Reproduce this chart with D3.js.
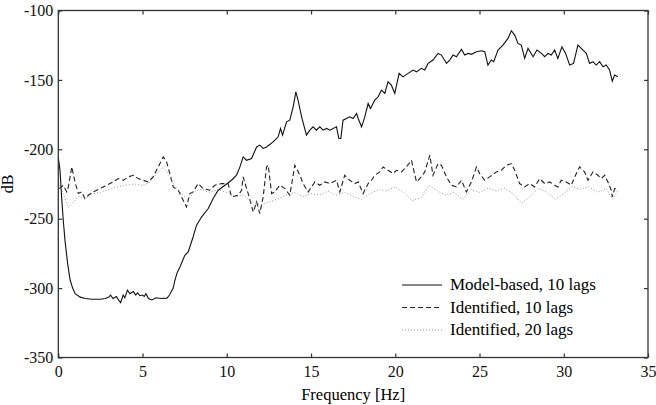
<!DOCTYPE html>
<html>
<head>
<meta charset="utf-8">
<script src="https://cdn.jsdelivr.net/npm/d3@7"></script>
<style>
  body { margin: 0; background: #fff; }
  svg { display: block; font-family: "Liberation Serif", "Times New Roman", serif; }
</style>
</head>
<body>
<script>
var width = 656, height = 405;
var margin = {top: 10.5, right: 8, bottom: 47.5, left: 58.3};

// tick values
var xTicks = [0, 5, 10, 15, 20, 25, 30, 35];
var yTicks = [-350, -300, -250, -200, -150, -100];

// series: [frequency Hz, dB]
var modelBased = [[0,-206],[0.1,-215],[0.2,-235],[0.3,-252],[0.4,-266],[0.55,-282],[0.7,-294],[0.85,-300],[1.0,-304],[1.3,-306.5],[1.6,-307.5],[2.0,-308],[2.5,-308],[2.8,-307.5],[3.0,-306.5],[3.1,-305],[3.25,-307.5],[3.45,-306],[3.6,-309],[3.7,-310.5],[3.85,-305],[3.95,-307],[4.1,-301.5],[4.25,-304],[4.45,-302.5],[4.6,-305],[4.7,-303.5],[4.85,-305.5],[5.0,-305],[5.1,-306],[5.2,-304],[5.35,-307.5],[5.55,-308.5],[5.8,-307],[6.1,-307.5],[6.45,-307.2],[6.6,-305],[6.82,-300],[6.92,-294.4],[7.05,-289],[7.22,-284.8],[7.51,-276.4],[7.71,-274],[8.0,-263.2],[8.2,-254.8],[8.5,-248.8],[8.9,-242.7],[9.19,-235.5],[9.49,-229.5],[9.89,-225.9],[10.28,-222.3],[10.58,-218.7],[10.78,-212.7],[10.97,-205.5],[11.17,-207.9],[11.47,-206.6],[11.77,-198.3],[11.96,-197],[12.16,-199.4],[12.36,-198.3],[12.75,-194.7],[13.05,-191],[13.19,-185],[13.31,-189.8],[13.55,-180.2],[13.74,-179],[13.94,-169.4],[14.1,-158.6],[14.23,-164.6],[14.44,-176.6],[14.73,-189.8],[14.93,-186.2],[15.12,-183.8],[15.32,-186.2],[15.52,-183.8],[15.72,-186.2],[15.92,-185],[16.12,-186.2],[16.51,-183.8],[16.65,-192.2],[16.77,-192.2],[16.9,-179],[17.1,-177.8],[17.3,-176.6],[17.5,-177.8],[17.7,-174.2],[17.8,-177.8],[18.0,-183.8],[18.19,-176.6],[18.39,-167],[18.53,-170.6],[18.78,-164.6],[18.98,-162.2],[19.18,-157.4],[19.38,-159.7],[19.57,-151.4],[19.77,-153.8],[19.97,-159.7],[20.23,-145.3],[20.46,-147.8],[20.76,-145.3],[21.06,-142.9],[21.26,-144.2],[21.55,-141.7],[21.75,-142.9],[21.95,-138.1],[22.24,-135.7],[22.54,-130.9],[22.74,-132.1],[23.04,-138.1],[23.23,-135.7],[23.43,-132.1],[23.63,-133.3],[23.93,-128],[24.12,-132.1],[24.32,-130.9],[24.52,-131.6],[24.82,-129.7],[25.11,-129],[25.31,-129.7],[25.5,-139.3],[25.7,-135.7],[25.84,-136.9],[26.1,-128.5],[26.39,-124.9],[26.69,-120.1],[26.89,-114.6],[27.09,-117.7],[27.28,-123.7],[27.48,-124.9],[27.68,-134.5],[27.88,-127.3],[28.18,-133.3],[28.41,-128.5],[28.67,-130.9],[28.87,-133.3],[29.06,-130.9],[29.26,-132.1],[29.46,-128.5],[29.65,-134.5],[29.89,-126.1],[30.11,-130.9],[30.35,-139.3],[30.58,-138.1],[30.84,-124.9],[31.04,-127.3],[31.34,-130.9],[31.53,-138.1],[31.73,-136.9],[31.93,-139.3],[32.13,-136.9],[32.33,-140.5],[32.52,-139.3],[32.72,-142.9],[32.88,-150.9],[33.02,-146.5],[33.21,-147.8]];

var ident10 = [[0.05,-228.3],[0.3,-226],[0.5,-230.7],[0.6,-227],[0.8,-212.7],[0.99,-223.5],[1.19,-231.9],[1.39,-230.7],[1.58,-235.5],[1.78,-233.1],[2.08,-230.7],[2.47,-228.3],[2.87,-225.9],[3.26,-223.5],[3.56,-221.1],[3.86,-222.3],[4.15,-219.9],[4.45,-218.7],[4.75,-221.1],[5.04,-222.3],[5.34,-223.5],[5.63,-219.9],[5.93,-212.7],[6.23,-205.5],[6.43,-209.1],[6.62,-217.5],[6.82,-227.1],[7.12,-229.5],[7.41,-236.7],[7.61,-241.6],[7.81,-231.9],[8.0,-230.7],[8.3,-224.7],[8.6,-228.3],[8.99,-229.5],[9.29,-225.9],[9.69,-224.7],[10.08,-224.7],[10.28,-234.3],[10.68,-233.1],[10.88,-229.5],[10.97,-219.9],[11.27,-231.9],[11.57,-245.2],[11.77,-237.9],[11.96,-246.3],[12.16,-234.3],[12.36,-212.7],[12.46,-211.5],[12.66,-231.9],[12.85,-230.7],[13.15,-225.9],[13.45,-228.3],[13.74,-233.1],[14.04,-211.5],[14.34,-218.7],[14.53,-224.7],[14.83,-230.7],[15.23,-223.5],[15.52,-225.9],[15.82,-223.5],[16.12,-224.7],[16.51,-222.3],[16.71,-230.7],[17.0,-218.7],[17.3,-222.3],[17.6,-224.7],[17.8,-223.5],[18.09,-231.9],[18.39,-224.7],[18.59,-222.3],[18.78,-218.7],[19.08,-216.3],[19.28,-212.7],[19.57,-215.1],[19.87,-217.5],[20.07,-215.1],[20.37,-216.3],[20.66,-212.7],[20.96,-207.9],[21.26,-223.5],[21.55,-219.9],[21.75,-216.3],[22.05,-204.3],[22.24,-218.7],[22.54,-210.3],[22.74,-211.5],[23.04,-219.9],[23.33,-225.9],[23.63,-227.1],[23.93,-222.3],[24.22,-230.7],[24.52,-223.5],[24.82,-212.7],[25.01,-217.5],[25.31,-222.3],[25.6,-219.9],[26.0,-216.3],[26.3,-215.1],[26.6,-211.5],[26.89,-210.3],[27.09,-215.1],[27.38,-224.7],[27.68,-227.1],[27.98,-224.7],[28.27,-227.1],[28.57,-221.1],[28.87,-224.7],[29.16,-223.5],[29.46,-225.9],[29.65,-227.1],[29.85,-222.3],[30.15,-223.5],[30.45,-225.9],[30.65,-219.9],[30.94,-212.7],[31.24,-216.3],[31.44,-222.3],[31.73,-216.3],[32.03,-218.7],[32.23,-221.1],[32.43,-218.7],[32.62,-223.5],[32.82,-229.5],[32.88,-234.3],[33.02,-228.3],[33.12,-228.3]];

var ident20 = [[0,-224],[0.3,-232],[0.6,-242],[0.9,-238],[1.2,-234],[1.6,-236],[2.0,-232],[2.5,-231],[3.0,-229],[3.5,-227],[4.0,-226],[4.5,-225],[5.0,-226],[5.4,-224],[5.8,-218],[6.2,-213],[6.5,-217],[6.9,-226],[7.3,-232],[7.7,-236],[8.1,-230],[8.5,-229],[9.0,-231],[9.5,-229],[10.0,-231],[10.5,-234],[11.0,-233],[11.5,-238],[12.0,-240],[12.5,-238],[13.0,-236],[13.5,-233],[14.0,-231],[14.5,-234],[15.0,-232],[15.5,-233],[16.0,-230],[16.5,-233],[17.0,-231],[17.5,-234],[18.0,-236],[18.5,-232],[19.0,-229],[19.5,-230],[20.0,-227],[20.5,-231],[21.0,-237],[21.5,-235],[22.0,-226],[22.5,-230],[23.0,-233],[23.5,-231],[24.0,-236],[24.5,-229],[25.0,-231],[25.5,-228],[26.0,-230],[26.5,-228],[27.0,-232],[27.5,-239],[28.0,-234],[28.5,-228],[29.0,-231],[29.5,-236],[30.0,-232],[30.5,-227],[31.0,-229],[31.5,-227],[32.0,-231],[32.5,-228],[32.9,-236],[33.2,-230]];

var legendLabels = ["Model-based, 10 lags", "Identified, 10 lags", "Identified, 20 lags"];

var x = d3.scaleLinear().domain([0, 35]).range([margin.left, width - margin.right]);
var y = d3.scaleLinear().domain([-350, -100]).range([height - margin.bottom, margin.top]);

var svg = d3.select("body").append("svg").attr("width", width).attr("height", height);

var line = d3.line().x(function(d) { return x(d[0]); }).y(function(d) { return y(d[1]); });

//series styles: solid, dashed, dotted
var styles = [
  {stroke: "#111", dash: null, w: 1.1},
  {stroke: "#222", dash: "5,3", w: 1.1},
  {stroke: "#999", dash: "1,2", w: 1}
];
var series = [modelBased, ident10, ident20];

series.forEach(function(s, i) {
  svg.append("path").datum(s)
    .attr("fill", "none")
    .attr("stroke", styles[i].stroke)
    .attr("stroke-width", styles[i].w)
    .attr("stroke-dasharray", styles[i].dash)
    .attr("d", line);
});

var plain = function(d) { return String(d); }; //keep ascii hyphen as in the original

//axes: ticks point inward on all four sides
function styleAxis(g) {
  g.select(".domain").remove();
  g.selectAll(".tick line").attr("stroke", "#333").attr("stroke-width", 1.2);
  g.selectAll("text").attr("fill", "#111").attr("font-size", 16)
    .attr("font-family", "'Liberation Serif', serif");
}

svg.append("g").attr("transform", "translate(0," + y(-350) + ")")
  .call(d3.axisBottom(x).tickValues(xTicks).tickSize(-4).tickPadding(8).tickFormat(plain))
  .call(styleAxis);
svg.append("g").attr("transform", "translate(0," + y(-100) + ")")
  .call(d3.axisTop(x).tickValues(xTicks).tickSize(-4).tickFormat(""))
  .call(styleAxis);
svg.append("g").attr("transform", "translate(" + x(0) + ",0)")
  .call(d3.axisLeft(y).tickValues(yTicks).tickSize(-4).tickPadding(5).tickFormat(plain))
  .call(styleAxis);
svg.append("g").attr("transform", "translate(" + x(35) + ",0)")
  .call(d3.axisRight(y).tickValues(yTicks).tickSize(-4).tickFormat(""))
  .call(styleAxis);

//frame
svg.append("rect")
  .attr("x", x(0)).attr("y", y(-100))
  .attr("width", x(35) - x(0)).attr("height", y(-350) - y(-100))
  .attr("fill", "none").attr("stroke", "#333").attr("stroke-width", 1.3);

//axis titles
svg.append("text")
  .attr("x", (x(0) + x(35)) / 2).attr("y", 400)
  .attr("text-anchor", "middle")
  .attr("font-size", 16.5)
  .text("Frequency [Hz]");
svg.append("text")
  .attr("transform", "translate(13," + (y(-100) + y(-350)) / 2 + ") rotate(-90)")
  .attr("text-anchor", "middle")
  .attr("font-size", 16)
  .text("dB");

//legend
var legend = svg.append("g");
legendLabels.forEach(function(label, i) {
  var ly = 285 + i * 22.5;
  legend.append("line")
    .attr("x1", 402).attr("x2", 442).attr("y1", ly).attr("y2", ly)
    .attr("stroke", styles[i].stroke).attr("stroke-width", styles[i].w)
    .attr("stroke-dasharray", styles[i].dash);
  legend.append("text")
    .attr("x", 450).attr("y", ly + 5)
    .attr("font-size", 17)
    .text(label);
});
</script>
</body>
</html>
